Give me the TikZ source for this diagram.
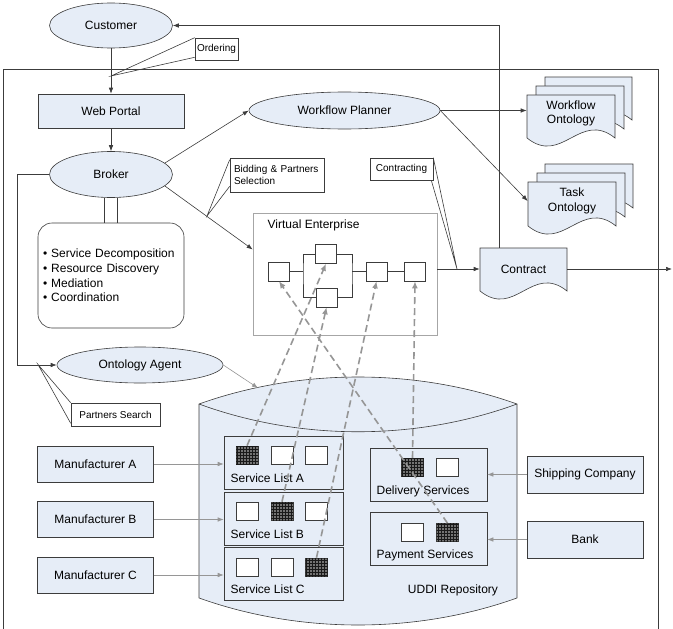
\documentclass[tikz,border=0pt]{standalone}
\usepackage{fontspec}
\setmainfont{Liberation Sans}
\usetikzlibrary{shapes.geometric,arrows.meta,patterns,calc}

\definecolor{paleblue}{RGB}{230,237,247}
\definecolor{edge}{RGB}{60,60,60}
\definecolor{feedgray}{RGB}{150,150,150}

% one sheet of a document symbol: left, top, right, base of the wave
\newcommand{\docsheet}[4]{%
  \filldraw[draw=edge, fill=paleblue] (#1,#2) -- (#3,#2) -- (#3,#4)
    .. controls +(-35,-28) and +(35,28) .. (#1,#4) -- cycle;}

\begin{document}
\begin{tikzpicture}[x=1pt, y=-1pt, line width=0.6pt,
  font=\fontsize{12}{14}\selectfont,
  ent/.style={ellipse, draw=edge, fill=paleblue, inner sep=1pt},
  unit/.style={rectangle, draw=edge, fill=paleblue},
  note/.style={rectangle, draw=edge, fill=white, inner sep=2pt, font=\fontsize{10}{12.5}\selectfont},
  docnode/.style={align=center, minimum width=88, minimum height=43, inner sep=0pt, font=\fontsize{12}{14.5}\selectfont},
  arr/.style={draw=edge, -{Latex[length=6pt,width=4.5pt]}},
  feed/.style={draw=feedgray, -{Latex[length=6pt,width=4.5pt]}},
  trace/.style={draw=feedgray, line width=1.6pt, dash pattern=on 7pt off 4pt, -{Latex[length=7pt,width=6pt]}},
  slot/.style={rectangle, draw=edge, fill=white, minimum width=22, minimum height=18, inner sep=0pt},
  busy/.style={slot, fill=black!55, postaction={pattern=grid, pattern color=black!90}},
  task/.style={rectangle, draw=edge, fill=white, minimum width=21, minimum height=19, inner sep=0pt}]
  \useasboundingbox (0,0) rectangle (673,629);

  % frame
  \draw[edge] (3,629) -- (3,69) -- (658,69) -- (658,629);

  % repository
  \filldraw[draw=edge, fill=paleblue] (199,404) .. controls (300,368) and (416,368) .. (517,404)
    -- (517,598) .. controls (416,634) and (300,634) .. (199,598) -- cycle;
  \draw[edge] (199,404) .. controls (300,441) and (416,441) .. (517,404);
  \coordinate (repotop) at (258,388);
  \node (uddilabel) at (453,590) {UDDI Repository};

  % actors
  \node[ent, minimum width=123, minimum height=45] (customer) at (111,25.5) {Customer};
  \node[unit, minimum width=146, minimum height=34] (portal) at (111,111) {Web Portal};
  \node[ent, minimum width=123, minimum height=46] (broker) at (111,174.5) {Broker};
  \node[ent, minimum width=191, minimum height=37] (planner) at (344.5,110.5) {Workflow Planner};
  \node[ent, minimum width=166, minimum height=36] (agent) at (140,365) {Ontology Agent};
  \node[rectangle, draw=edge, rounded corners=14, minimum width=146, minimum height=105,
    text width=136, inner xsep=5, align=left, font=\fontsize{12}{14.7}\selectfont] (duties) at (111,275.5)
    {\textbullet\ Service Decomposition\\\textbullet\ Resource Discovery\\\textbullet\ Mediation\\\textbullet\ Coordination};

  % ontologies
  \docsheet{545}{77}{632}{120}
  \docsheet{536}{86}{624}{129}
  \docsheet{527}{95}{615}{138}
  \node[docnode] (wfo) at (571,113.5) {Workflow\\Ontology};
  \docsheet{545}{164}{633}{208}
  \docsheet{537}{173}{625}{217}
  \docsheet{528}{182}{616}{226}
  \node[docnode] (tko) at (572,201) {Task\\Ontology};

  % contract
  \docsheet{480}{248}{567}{291}
  \node[minimum width=87, minimum height=42, inner sep=0pt] (contract) at (523.5,269) {Contract};
  \coordinate (exit) at (672,269);

  % virtual enterprise
  \node[rectangle, draw=black!35, minimum width=184, minimum height=122] (ve) at (345,274) {};
  \node[anchor=west] (vetitle) at (264,225) {Virtual Enterprise};
  \node[task] (ve1) at (279,271.5) {};
  \node[task] (ve2) at (326,254) {};
  \node[task] (ve3) at (326.5,297.5) {};
  \node[task] (ve4) at (376.5,271.5) {};
  \node[task] (ve5) at (415,271.5) {};
  \coordinate (forkL) at (303,271.5);
  \coordinate (forkR) at (352,271.5);
  \draw[edge] (ve1.east) -- (forkL) (ve2.west) -| (forkL) |- (ve3.west);
  \draw[edge] (ve2.east) -| (forkR) |- (ve3.east) (forkR) -- (ve4.west);
  \draw[edge] (ve4.east) -- (ve5.west);

  % service lists
  \foreach \row/\y in {A/462.5, B/518.5, C/574} {
    \node[rectangle, draw=edge, fill=paleblue, minimum width=119, minimum height=53] (list\row) at (283.5,\y) {};
    \node[anchor=west] (lab\row) at (227,\y+15.5) {Service List \row};
  }
  \node[busy] (sa1) at (247,455) {};
  \node[slot] (sa2) at (282,455) {};
  \node[slot] (sa3) at (316.5,455) {};
  \node[slot] (sb1) at (247,511) {};
  \node[busy] (sb2) at (282,511) {};
  \node[slot] (sb3) at (316.5,511) {};
  \node[slot] (sc1) at (247,567) {};
  \node[slot] (sc2) at (282,567) {};
  \node[busy] (sc3) at (316.5,567) {};

  \node[rectangle, draw=edge, fill=paleblue, minimum width=117, minimum height=53] (deliv) at (428.5,474.5) {};
  \node[anchor=west] (labdeliv) at (373,491) {Delivery Services};
  \node[busy] (sd1) at (412.5,467.5) {};
  \node[slot] (sd2) at (447,467.5) {};
  \node[rectangle, draw=edge, fill=paleblue, minimum width=117, minimum height=53] (pay) at (428.5,539) {};
  \node[anchor=west] (labpay) at (373,555) {Payment Services};
  \node[slot] (sp1) at (412.5,532.5) {};
  \node[busy] (sp2) at (447.5,532.5) {};

  % providers
  \node[unit, minimum width=116, minimum height=36] (makerA) at (95.5,464) {Manufacturer A};
  \node[unit, minimum width=116, minimum height=36] (makerB) at (95.5,519.5) {Manufacturer B};
  \node[unit, minimum width=116, minimum height=36] (makerC) at (95.5,575) {Manufacturer C};
  \node[unit, minimum width=116, minimum height=37] (ship) at (585,474.5) {Shipping Company};
  \node[unit, minimum width=116, minimum height=37] (bank) at (585,539.5) {Bank};

  % callouts
  \node[note, minimum width=43, minimum height=22] (ordering) at (216.5,49) {Ordering};
  \node[note, minimum width=94, minimum height=34, text width=86, align=left] (bidding) at (277,175) {Bidding \& Partners\\Selection};
  \node[note, minimum width=63, minimum height=22] (contracting) at (401.5,169) {Contracting};
  \node[note, minimum width=89, minimum height=23] (search) at (115.5,414.5) {Partners Search};
  \coordinate (ordtip) at (111,76);
  \coordinate (bidtip) at (207,216);
  \coordinate (contip) at (457,269);
  \coordinate (searchtip) at (38,364.5);
  \draw[edge] (ordering.north west) -- (ordtip) -- ([yshift=3pt]ordering.south west);
  \draw[edge] ([yshift=-2pt]bidding.north west) -- (bidtip) -- ([yshift=6pt]bidding.south west);
  \draw[edge] (contracting.north east) -- (contip) -- ([xshift=-2pt]contracting.south east);
  \draw[edge] (search.north west) -- (searchtip) -- ([yshift=3pt]search.south west);

  % flows
  \draw[arr] (customer) -- (portal);
  \draw[arr] (portal) -- (broker);
  \draw[arr] (broker.12) -- (planner.west);
  \draw[arr] (broker.-12) -- ($(ve.north west)!0.3!(ve.south west)$);
  \draw[arr] (broker.west) -- ++(-32,0) |- (agent.west);
  \draw[edge] ([xshift=-6.5pt]broker.south) -- ([xshift=-6.5pt]duties.north);
  \draw[edge] ([xshift=6.5pt]broker.south) -- ([xshift=6.5pt]duties.north);
  \draw[arr] (planner.east) -- (planner.east -| wfo.west);
  \draw[arr] (planner.east) -- (tko.west);
  \draw[arr] (ve.east |- contract.west) -- (contract.west);
  \draw[arr] (contract.east) -- (exit);
  \draw[arr] ([xshift=-24.5pt]contract.north) |- (customer.east);

  \draw[feed] (agent.east) -- (repotop);
  \draw[feed] (makerA.east) -- (makerA.east -| listA.west);
  \draw[feed] (makerB.east) -- (makerB.east -| listB.west);
  \draw[feed] (makerC.east) -- (makerC.east -| listC.west);
  \draw[feed] (ship.west) -- (ship.west -| deliv.east);
  \draw[feed] (bank.west) -- (bank.west -| pay.east);

  % chosen services
  \draw[trace] (sa1.north) -- (ve2.south);
  \draw[trace] (sb2.north) -- (ve3.south);
  \draw[trace] (sc3.north) -- (ve4.south);
  \draw[trace] (sd1.north) -- (ve5.south);
  \draw[trace] (sp2.north) -- (ve1.south);
\end{tikzpicture}
\end{document}
